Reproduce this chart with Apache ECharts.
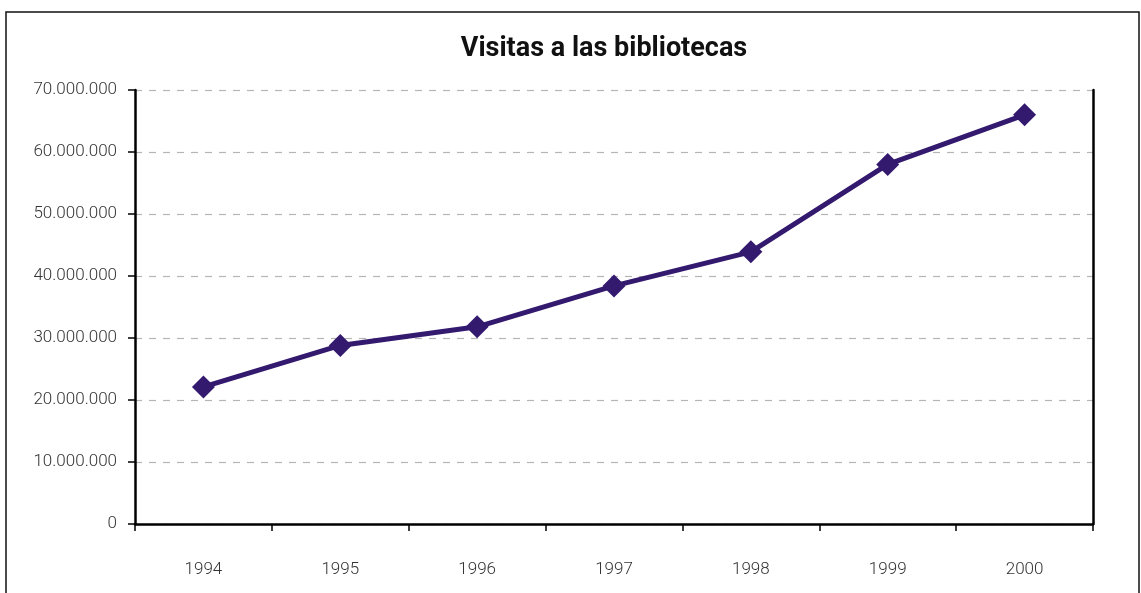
<!DOCTYPE html>
<html>
<head>
<meta charset="utf-8">
<title>Visitas a las bibliotecas</title>
<script src="https://cdn.jsdelivr.net/npm/echarts@6/dist/echarts.min.js"></script>
<style>
  html, body { margin: 0; padding: 0; background: #fff; }
  #main { width: 1141px; height: 593px; }
</style>
</head>
<body>
<div id="main"></div>
<script>
// datos
var years = ['1994', '1995', '1996', '1997', '1998', '1999', '2000'];
var visitas = [22100000, 28800000, 31800000, 38400000, 43900000, 58000000, 66000000];

var fuente = "'Liberation Sans Narrow', 'Arial Narrow', 'Roboto', sans-serif";

// 70000000 -> 70.000.000
function puntos(v) {
    return String(v).replace(/\B(?=(\d{3})+(?!\d))/g, '.');
}

var chart = echarts.init(document.getElementById('main'));

var option = {
    animation: false,
    title: {
        text: 'Visitas a las bibliotecas',
        left: 599,
        top: 31,
        textAlign: 'center',
        textStyle: {
            fontFamily: fuente,
            fontSize: 27,
            fontWeight: 'bold',
            color: '#111'
        }
    },
    graphic: [{
        type: 'rect',
        shape: { x: 6, y: 12, width: 1133, height: 600 },
        style: { fill: 'none', stroke: '#111', lineWidth: 1.5 },
        silent: true
    }],
    grid: {
        left: 135,
        right: 48,
        top: 90,
        bottom: 69
    },
    xAxis: {
        type: 'category',
        data: years,
        boundaryGap: true,
        axisLine: { lineStyle: { color: '#000', width: 2.5 } },
        axisTick: { show: true, length: 7, alignWithLabel: false, lineStyle: { color: '#000', width: 1.5 } },
        axisLabel: {
            margin: 37,
            fontFamily: fuente,
            fontSize: 17,
            fontWeight: 300,
            color: '#333'
        },
        splitLine: { show: false }
    },
    yAxis: [{
        type: 'value',
        min: 0,
        max: 70000000,
        interval: 10000000,
        axisLine: { show: true, lineStyle: { color: '#000', width: 2.5 } },
        axisTick: { show: true, length: 7, lineStyle: { color: '#000', width: 1.5 } },
        axisLabel: {
            margin: 18,
            fontFamily: fuente,
            fontSize: 17,
            fontWeight: 300,
            color: '#333',
            formatter: puntos
        },
        splitLine: {
            show: true,
            lineStyle: { color: '#b5b5b5', type: [7, 7], width: 1.2 }
        }
    }, {
        type: 'value',
        position: 'right',
        min: 0,
        max: 70000000,
        interval: 10000000,
        axisLine: { show: true, lineStyle: { color: '#000', width: 2.5 } },
        axisTick: { show: false },
        axisLabel: { show: false },
        splitLine: { show: false }
    }],
    series: [{
        name: 'Visitas',
        type: 'line',
        data: visitas,
        symbol: 'diamond',
        symbolSize: 23,
        lineStyle: { color: '#341a6f', width: 5 },
        itemStyle: { color: '#341a6f' }
    }]
};

chart.setOption(option);
</script>
</body>
</html>
